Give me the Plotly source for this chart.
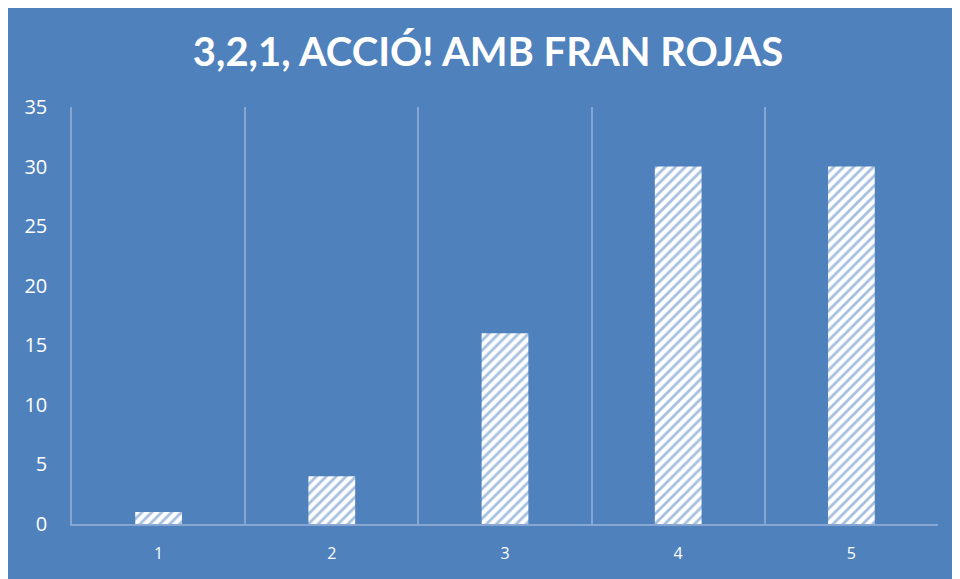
import plotly.graph_objects as go

categories = ["1", "2", "3", "4", "5"]
values = [1, 4, 16, 30, 30]
title_text = "3,2,1, ACCIÓ! AMB FRAN ROJAS"

BG = "#4F81BD"
GRID = "#87A6D2"

fig = go.Figure(
    go.Bar(
        x=categories,
        y=values,
        marker=dict(
            color="white",
            line=dict(width=0),
            pattern=dict(shape="/", fgcolor=BG, bgcolor="white", size=7, solidity=0.4),
        ),
        hoverinfo="x+y",
    )
)

fig.update_layout(
    width=960,
    height=579,
    paper_bgcolor=BG,
    plot_bgcolor=BG,
    margin=dict(l=64, r=30, t=99, b=63),
    bargap=0.73,
    showlegend=False,
    title=dict(
        text=title_text,
        x=0.5,
        xref="container",
        xanchor="center",
        y=1 - 44 / 579,
        yref="container",
        yanchor="middle",
        font=dict(family="Lato", size=40, color="white", weight="bold"),
    ),
    font=dict(family="Open Sans", color="white"),
)

fig.update_xaxes(
    type="category",
    tickson="boundaries",
    showgrid=True,
    gridcolor=GRID,
    gridwidth=1.5,
    showline=True,
    linecolor=GRID,
    linewidth=1.5,
    ticks="",
    tickfont=dict(size=16, color="white"),
    ticklabelstandoff=14,
)
fig.update_yaxes(
    range=[0, 35],
    tickvals=[0, 5, 10, 15, 20, 25, 30, 35],
    showgrid=False,
    zeroline=False,
    showline=True,
    linecolor=GRID,
    linewidth=1.5,
    ticks="",
    tickfont=dict(size=20, color="white"),
    ticklabelstandoff=19,
)

fig.write_html("out.html")
